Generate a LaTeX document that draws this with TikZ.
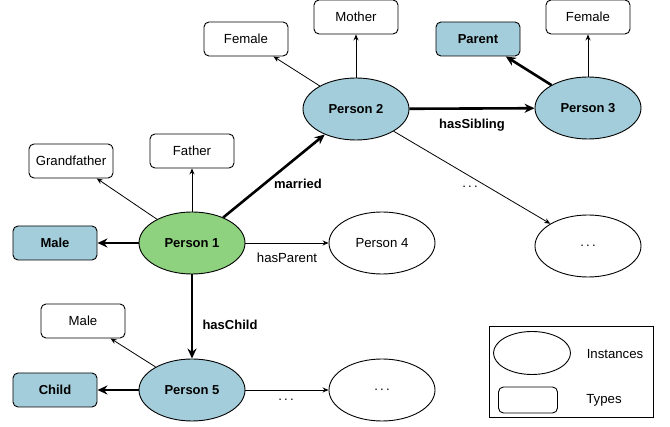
\documentclass[tikz,border=0pt]{standalone}
\usepackage{fontspec}
\setmainfont{Liberation Sans}
\usetikzlibrary{arrows.meta,shapes.geometric}
\definecolor{blueish}{HTML}{A3CDDA}
\definecolor{greenish}{HTML}{8ED17E}
\tikzset{
  txt/.style={font=\fontsize{13.2}{15}\selectfont},
  typebox/.style={draw, rounded corners=5pt, minimum width=84pt, minimum height=34pt, inner sep=0pt, line width=0.9pt, txt},
  btype/.style={typebox, fill=blueish, font=\fontsize{13}{15}\selectfont\bfseries},
  inst/.style={draw, ellipse, minimum width=106pt, minimum height=62pt, inner sep=0pt, line width=0.9pt, txt},
  binst/.style={inst, fill=blueish, font=\fontsize{13}{15}\selectfont\bfseries},
  ginst/.style={inst, fill=greenish, font=\fontsize{13}{15}\selectfont\bfseries},
  thinarr/.style={-{Stealth[length=6pt,width=5pt]}, line width=0.8pt},
  thickarr/.style={-{Stealth[length=10pt,width=9pt]}, line width=2.6pt},
  lbl/.style={txt, inner sep=1pt},
  blbl/.style={lbl, font=\fontsize{13}{15}\selectfont\bfseries},
}
\begin{document}
\begin{tikzpicture}[x=1pt,y=-1pt]
\useasboundingbox (0,0) rectangle (670,427);
% type boxes
\node[typebox] (femaleA) at (246,39) {Female};
\node[typebox] (mother) at (356,17) {Mother};
\node[btype] (parent) at (478,39) {Parent};
\node[typebox] (femaleB) at (588,17) {Female};
\node[typebox] (grandfather) at (71,161) {Grandfather};
\node[typebox] (father) at (192,151) {Father};
\node[btype] (maleA) at (55,243) {Male};
\node[typebox] (maleB) at (83,321) {Male};
\node[btype] (child) at (55,390) {Child};
% instances
\node[binst] (p2) at (356,109) {Person 2};
\node[binst] (p3) at (588,108) {Person 3};
\node[ginst] (p1) at (192,243) {Person 1};
\node[inst] (p4) at (382,243) {Person 4};
\node[inst] (dotsA) at (588,246) {.\,.\,.};
\node[binst] (p5) at (192,390) {Person 5};
\node[inst] (dotsB) at (382,390) {.\,.\,.};
% edges
\draw[thinarr] (p1) -- (grandfather);
\draw[thinarr] (p1) -- (father);
\draw[thickarr] (p1) -- (p2);
\draw[thickarr] (p1) -- (maleA);
\draw[thinarr] (p1) -- (p4);
\draw[thickarr] (p1) -- (p5);
\draw[thinarr] (p2) -- (femaleA);
\draw[thinarr] (p2) -- (mother);
\draw[thickarr] (p2) -- (p3);
\draw[thinarr] (p2) -- (dotsA);
\draw[thickarr] (p3) -- (parent);
\draw[thinarr] (p3) -- (femaleB);
\draw[thinarr] (p5) -- (maleB);
\draw[thickarr] (p5) -- (child);
\draw[thinarr] (p5) -- (dotsB);
% edge labels
\node[blbl] (lmarried) at (298,184) {married};
\node[blbl] (lsibling) at (472,125) {hasSibling};
\node[lbl] (ldotsA) at (470,187) {.\,.\,.};
\node[lbl] (lparent) at (287,258) {hasParent};
\node[blbl] (lchild) at (230,325) {hasChild};
\node[lbl] (ldotsB) at (286,400) {.\,.\,.};
% legend
\node[draw, line width=0.9pt, minimum width=164pt, minimum height=91pt, inner sep=0pt] (legend) at (571,371.5) {};
\node[draw, ellipse, line width=0.9pt, minimum width=77pt, minimum height=43pt, inner sep=0pt] (legInst) at (532,353) {};
\node[draw, rounded corners=5pt, line width=0.9pt, minimum width=59pt, minimum height=26pt, inner sep=0pt] (legType) at (528,400) {};
\node[lbl] (tInst) at (615,354) {Instances};
\node[lbl] (tType) at (604,400) {Types};
\end{tikzpicture}
\end{document}
